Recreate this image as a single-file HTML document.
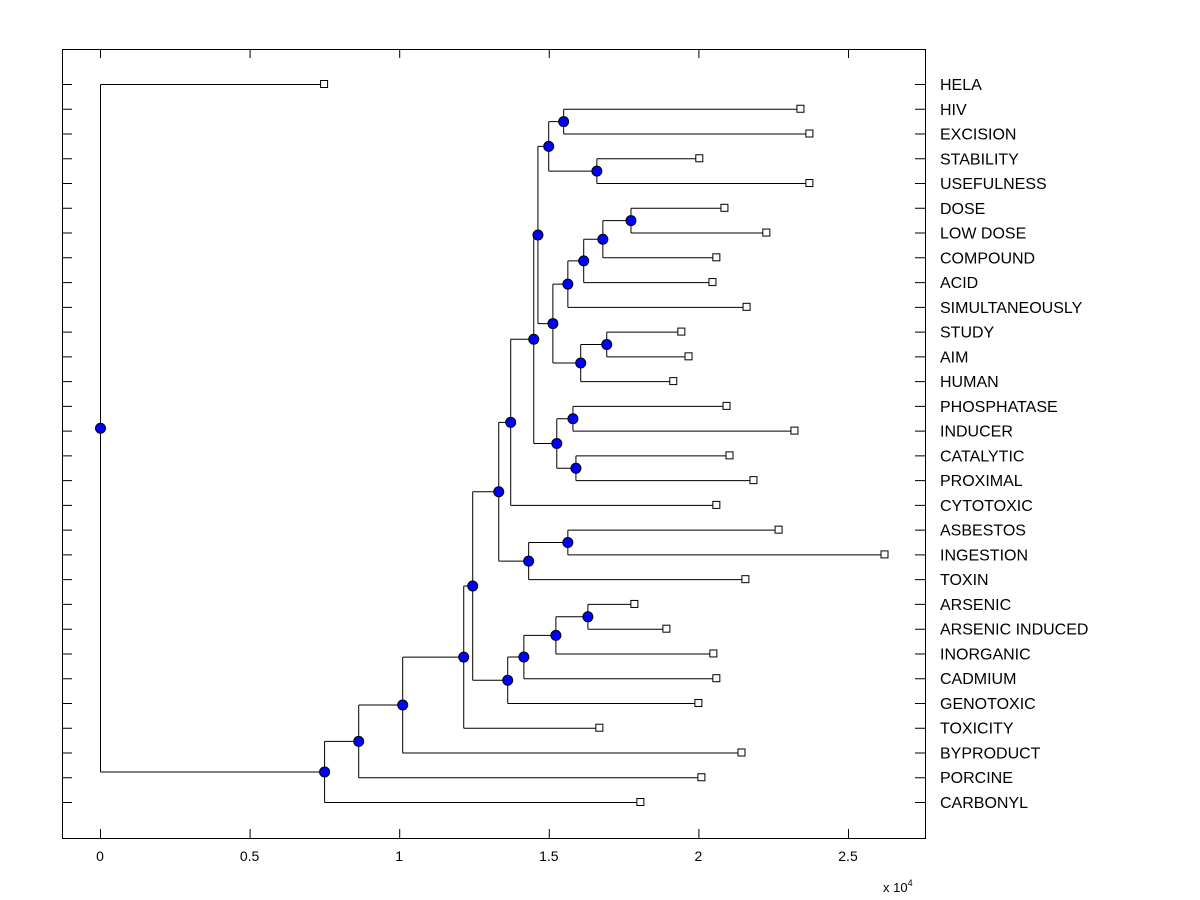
<!DOCTYPE html>
<html><head><meta charset="utf-8"><style>
body{margin:0;background:#fff}
svg{display:block;font-family:"Liberation Sans",Arial,sans-serif}
</style></head><body>
<svg id="c" width="1200" height="900" viewBox="0 0 1200 900">
<rect x="0" y="0" width="1200" height="900" fill="#fff"/>
</svg>
<script>
const leafNames=["HELA","HIV","EXCISION","STABILITY","USEFULNESS","DOSE","LOW DOSE","COMPOUND","ACID","SIMULTANEOUSLY","STUDY","AIM","HUMAN","PHOSPHATASE","INDUCER","CATALYTIC","PROXIMAL","CYTOTOXIC","ASBESTOS","INGESTION","TOXIN","ARSENIC","ARSENIC INDUCED","INORGANIC","CADMIUM","GENOTOXIC","TOXICITY","BYPRODUCT","PORCINE","CARBONYL"];
const leafValues=[0.749,2.341,2.371,2.003,2.371,2.087,2.227,2.060,2.047,2.161,1.943,1.967,1.916,2.094,2.321,2.104,2.184,2.060,2.268,2.622,2.157,1.786,1.893,2.050,2.060,2.000,1.669,2.144,2.010,1.806];
const xTicks=[0,0.5,1,1.5,2,2.5];
const xTickLabels=["0","0.5","1","1.5","2","2.5"];
// tree: internal node = [value, childA, childB]; leaf = index into leaf arrays
const tree=[0,0,[0.749,[0.863,[1.010,[1.214,[1.244,
  [1.331,
    [1.371,
      [1.448,
        [1.462,
          [1.498,[1.548,1,2],[1.659,3,4]],
          [1.512,[1.562,[1.615,[1.679,[1.773,5,6],7],8],9],[1.605,[1.692,10,11],12]]
        ],
        [1.525,[1.579,13,14],[1.589,15,16]]
      ],17],
    [1.431,[1.562,18,19],20]],
  [1.361,[1.415,[1.522,[1.629,21,22],23],24],25]
 ],26],27],28],29]];

const NS="http://www.w3.org/2000/svg";
const svg=document.getElementById('c');
const L=62,R=925,T=49,B=838;
const xs=v=>100+v*299.2;
const ys=i=>84+i*(802-84)/29;
function mk(tag,attrs,parent){const e=document.createElementNS(NS,tag);for(const k in attrs)e.setAttribute(k,attrs[k]);(parent||svg).appendChild(e);return e;}
const linesG=mk('g',{stroke:'#000','stroke-width':1,fill:'none'});


const marksG=mk('g',{});


const nodes=[];
function walk(n){
  if(typeof n==='number'){return {x:xs(leafValues[n]),y:ys(n)};}
  const a=walk(n[1]),b=walk(n[2]);
  const x=xs(n[0]),y=(a.y+b.y)/2;
  mk('path',{d:`M${x+.5},${a.y+.5}V${b.y+.5}M${x+.5},${a.y+.5}H${a.x+.5}M${x+.5},${b.y+.5}H${b.x+.5}`},linesG);
  nodes.push({x,y});
  return {x,y};
}
walk(tree);
const box=mk('rect',{x:L+.5,y:T+.5,width:R-L,height:B-T,fill:'none',stroke:'#000'});


leafNames.forEach((name,i)=>{
  const y=ys(i);
  mk('path',{d:`M${L},${y+.5}h10M${R},${y+.5}h-10`,stroke:'#000'});
  const s=mk('rect',{x:xs(leafValues[i])-3.5,y:y-3.5,width:7,height:7,fill:'#fff',stroke:'#000'},marksG);
  
  
  const t=mk('text',{x:940,y:y+6,'font-size':16,fill:'#000'});
  t.textContent=name;
  
  
});
nodes.forEach(n=>{
  const c=mk('circle',{cx:n.x+.5,cy:n.y+.5,r:5,fill:'#0000ff',stroke:'#000'},marksG);
  
  
});
xTicks.forEach((v,i)=>{
  const x=xs(v);
  mk('path',{d:`M${x+.5},${B}v-9M${x+.5},${T}v9`,stroke:'#000'});
  const t=mk('text',{x:x,y:861,'font-size':14,'text-anchor':'middle',fill:'#000'});
  t.textContent=xTickLabels[i];
  
  
});
const ex=mk('text',{x:883,y:892,'font-size':13,fill:'#000'});
ex.innerHTML='x 10<tspan dy="-6" font-size="9">4</tspan>';


</script>
</body></html>
